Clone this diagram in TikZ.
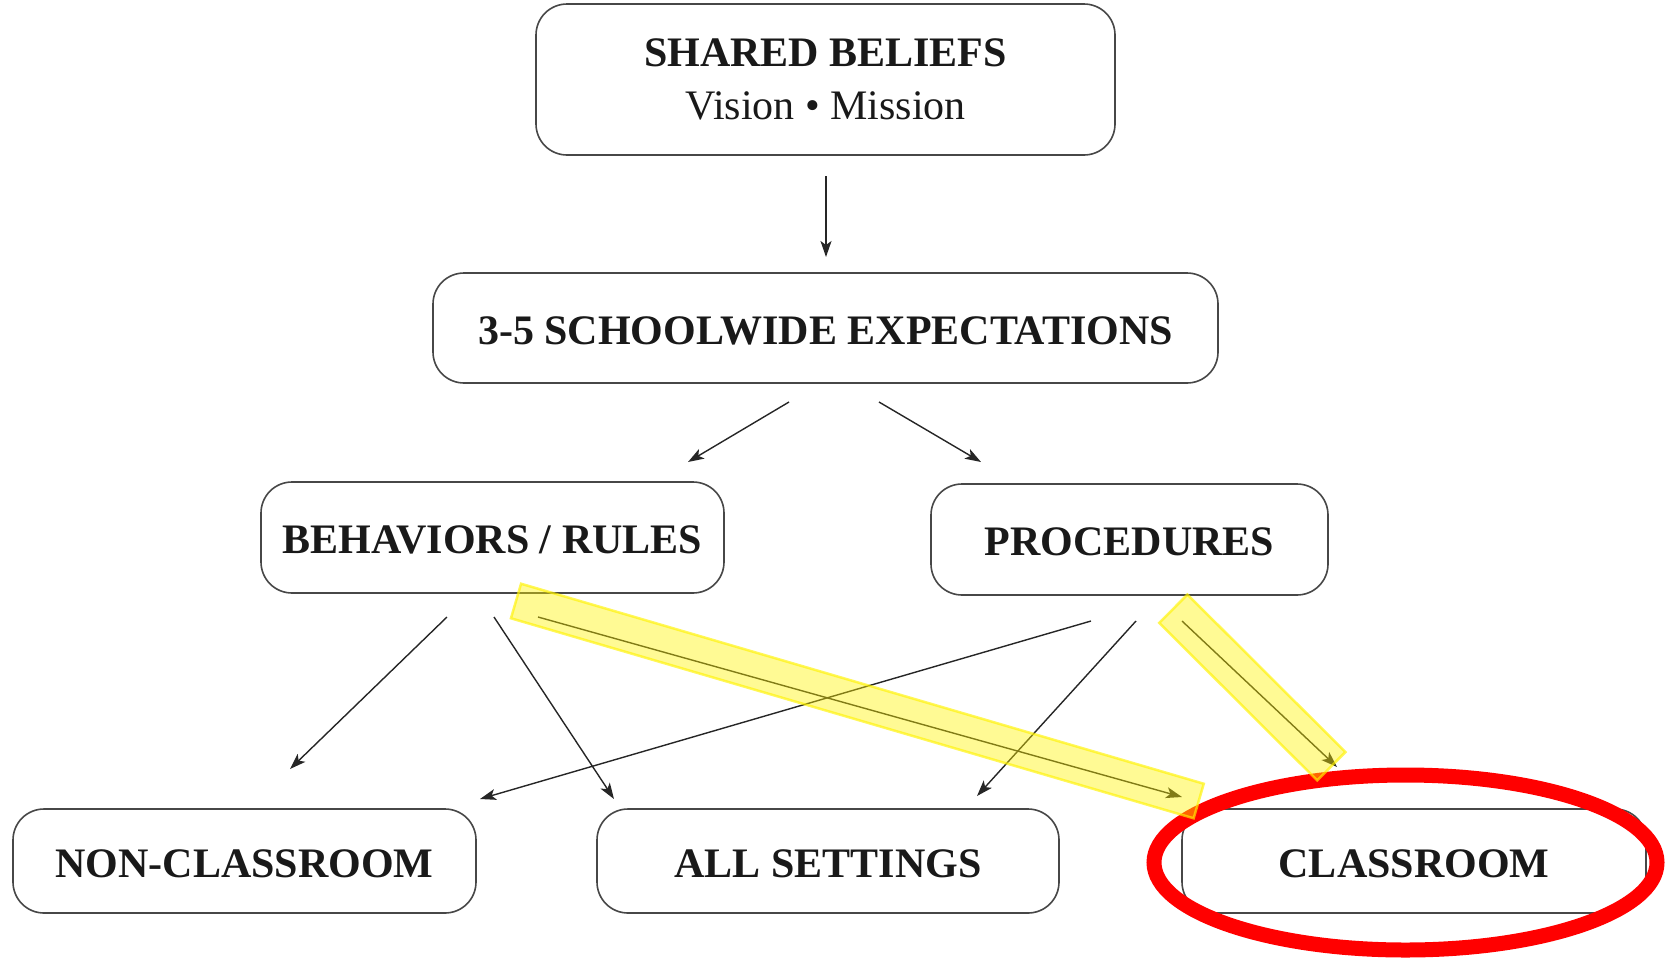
\documentclass[tikz,border=0pt]{standalone}
\usepackage{fontspec}
\setmainfont{Liberation Serif}
\usetikzlibrary{arrows.meta,calc}
\begin{document}
\begin{tikzpicture}[x=1pt,y=-1pt,
  box/.style={draw=black!72, line width=1.6pt, rounded corners=31pt, inner sep=0pt,
    text=black!90, font=\fontsize{42}{54}\selectfont\bfseries, align=center},
  oneline/.style={text height=32pt, text depth=0pt},
  arr/.style={-{Stealth[length=16pt,width=11pt,inset=4pt]}, line width=1.4pt, draw=black!85},
  hl/.style={fill=yellow, fill opacity=0.42, draw=yellow, draw opacity=0.65, line width=2.5pt, line join=miter},
  ring/.style={draw=red, line width=15pt}]
\useasboundingbox (0,0) rectangle (1665,959);
% boxes
\node[box, minimum width=579pt, minimum height=151pt] (shared) at (825.5,79.5)
  {\raisebox{-1.5pt}{SHARED BELIEFS}\\{\mdseries Vision \textbullet{} Mission}};
\node[box, oneline, minimum width=785pt, minimum height=110pt] (exp) at (825.5,328) {3-5 SCHOOLWIDE EXPECTATIONS};
\node[box, oneline, minimum width=463pt, minimum height=111pt] (beh) at (492.5,537.5) {BEHAVIORS / RULES};
\node[box, oneline, minimum width=397pt, minimum height=111pt] (proc) at (1129.5,539.5) {PROCEDURES};
\node[box, oneline, minimum width=463pt, minimum height=104pt] (non) at (244.5,861) {NON-CLASSROOM};
\node[box, oneline, minimum width=462pt, minimum height=104pt] (all) at (828,861) {ALL SETTINGS};
\node[box, oneline, minimum width=464pt, minimum height=104pt] (cls) at (1414,861) {CLASSROOM};
% connector end points
\coordinate (s0) at (826,176);   \coordinate (t0) at (826,257);
\coordinate (s1) at (789,402);   \coordinate (t1) at (688,462);
\coordinate (s2) at (879,402);   \coordinate (t2) at (981,462);
\coordinate (s3) at (447,617);   \coordinate (t3) at (290,769);
\coordinate (s4) at (494,617);   \coordinate (t4) at (614,799);
\coordinate (s5) at (538,617);   \coordinate (t5) at (1182,797);
\coordinate (s6) at (1091,621);  \coordinate (t6) at (480,799);
\coordinate (s7) at (1136,621);  \coordinate (t7) at (977,796);
\coordinate (s8) at (1182,621);  \coordinate (t8) at (1337,767);
% connectors
\draw[arr] (s0) -- (t0);
\draw[arr] (s1) -- (t1);
\draw[arr] (s2) -- (t2);
\draw[arr] (s3) -- (t3);
\draw[arr] (s4) -- (t4);
\draw[arr] (s5) -- (t5);
\draw[arr] (s6) -- (t6);
\draw[arr] (s7) -- (t7);
\draw[arr] (s8) -- (t8);
% red ring
\draw[ring] (1405.5,862.5) ellipse [x radius=251.5pt, y radius=87.5pt];
% highlighter marks
\coordinate (h1a) at (516,601);    \coordinate (h1b) at (1198.7,801);
\coordinate (h2a) at (1173.3,608.7); \coordinate (h2b) at (1331.3,766.2);
\draw[hl] ($(h1a)!18pt!90:(h1b)$) -- ($(h1a)!18pt!-90:(h1b)$) -- ($(h1b)!18pt!90:(h1a)$) -- ($(h1b)!18pt!-90:(h1a)$) -- cycle;
\draw[hl] ($(h2a)!20pt!90:(h2b)$) -- ($(h2a)!20pt!-90:(h2b)$) -- ($(h2b)!20pt!90:(h2a)$) -- ($(h2b)!20pt!-90:(h2a)$) -- cycle;
\end{tikzpicture}
\end{document}
